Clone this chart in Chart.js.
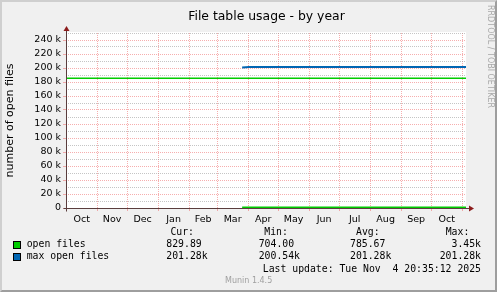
<!DOCTYPE html>
<html>
<head>
<meta charset="utf-8">
<title>File table usage - by year</title>
<script src="https://cdn.jsdelivr.net/npm/chart.js@4.4.1/dist/chart.umd.min.js"></script>
<style>
  html, body { margin: 0; padding: 0; background: #f0f0f0; }
  #wrap { position: relative; width: 497px; height: 292px; overflow: hidden; }
  #frame { position: absolute; left: 0; top: 0; width: 497px; height: 292px; box-sizing: border-box;
    border-style: solid; border-width: 2px; border-color: #cfcfcf #9e9e9e #9e9e9e #cfcfcf; background: #f0f0f0; }
  #chart { position: absolute; left: 0; top: 0; }
  .txt { position: absolute; white-space: pre; color: #000; }
  .mono { font-family: "DejaVu Sans Mono", monospace; font-size: 9.8px; line-height: 12px; }
  .box { position: absolute; width: 8px; height: 8px; box-sizing: border-box; border: 1px solid #000; }
  #title { left: 36px; width: 461px; top: 7.5px; text-align: center; font-family: "DejaVu Sans"; font-size: 12.4px; line-height: 15px; }
  #munin { left: 225px; top: 276.2px; font-family: "DejaVu Sans"; font-size: 8px; line-height: 10px; color: #a0a0a0; }
  #rrd { left: 485px; top: 5px; writing-mode: vertical-rl; font-family: "DejaVu Sans"; font-size: 8px; line-height: 10px; color: #a8a8a8; }
</style>
</head>
<body>
<div id="wrap">
  <div id="frame"></div>
  <canvas id="chart" width="497" height="292"></canvas>
  <div id="title" class="txt">File table usage - by year</div>
  <div id="rrd" class="txt">RRDTOOL / TOBI OETIKER</div>

  <div class="txt mono" style="right:303px;top:226.3px">Cur:</div>
  <div class="txt mono" style="left:264.3px;top:226.3px">Min:</div>
  <div class="txt mono" style="left:356px;top:226.3px">Avg:</div>
  <div class="txt mono" style="right:27.7px;top:226.3px">Max:</div>

  <div class="box" style="left:13px;top:240.5px;background:#00cc00"></div>
  <div class="txt mono" style="left:26.7px;top:237.9px">open files</div>
  <div class="txt mono" style="left:166.3px;top:237.9px">829.89</div>
  <div class="txt mono" style="left:258.7px;top:237.9px">704.00</div>
  <div class="txt mono" style="left:350px;top:237.9px">785.67</div>
  <div class="txt mono" style="right:16px;top:237.9px">3.45k</div>

  <div class="box" style="left:13px;top:253px;background:#0066b3"></div>
  <div class="txt mono" style="left:26.7px;top:250.3px">max open files</div>
  <div class="txt mono" style="left:166.3px;top:250.3px">201.28k</div>
  <div class="txt mono" style="left:258.7px;top:250.3px">200.54k</div>
  <div class="txt mono" style="left:350px;top:250.3px">201.28k</div>
  <div class="txt mono" style="right:16px;top:250.3px">201.28k</div>

  <div class="txt mono" style="right:16px;top:262.6px">Last update: Tue Nov  4 20:35:12 2025</div>
  <div id="munin" class="txt">Munin 1.4.5</div>
</div>

<script>
// x values are days since 1 Oct 2024
const xStart = -0.14;
const xEnd = 399.86;

const monthNames = ['Oct', 'Nov', 'Dec', 'Jan', 'Feb', 'Mar', 'Apr', 'May', 'Jun', 'Jul', 'Aug', 'Sep', 'Oct'];
const monthStarts = [0, 31, 61, 92, 123, 151, 182, 212, 243, 273, 304, 335, 365, 396];

const openFilesDays = [176, 183, 197, 212, 228, 243, 258, 273, 289, 304, 320, 335, 350, 365, 381, 396, 399.86];
const openFilesValues = [760, 742, 771, 704, 789, 812, 766, 795, 748, 803, 781, 759, 792, 815, 806, 820, 829.89];

const maxOpenDays = [176, 183, 212, 243, 273, 304, 335, 365, 399.86];
const maxOpenValues = [200540, 201280, 201280, 201280, 201280, 201280, 201280, 201280, 201280];

const limitValue = 185200;

const yMax = 250000;
const yStep = 10000;
const yLabelStep = 20000;

const green = '#00cc00';
const blue = '#0066b3';
const majorGrid = 'rgba(240,120,120,0.6)';
const minorGrid = 'rgba(150,150,150,0.55)';
const axisColor = '#5a3d3d';
const arrowColor = '#8c1c1c';

Chart.defaults.font.family = 'DejaVu Sans';
Chart.defaults.color = '#000';

function pairs(xs, ys) {
  return xs.map((x, i) => ({ x: x, y: ys[i] }));
}

const munin = {
  id: 'munin',
  beforeDraw(chart) {
    const { ctx, chartArea: a } = chart;
    ctx.save();
    ctx.fillStyle = '#ffffff';
    ctx.fillRect(a.left, a.top - 1, a.right - a.left, a.bottom - a.top + 1);
    ctx.restore();
  },
  afterDraw(chart) {
    const { ctx, chartArea: a } = chart;
    const x0 = Math.round(a.left) + 0.5;
    const y0 = Math.round(a.bottom) + 0.5;
    ctx.save();
    ctx.strokeStyle = axisColor;
    ctx.lineWidth = 1;
    ctx.beginPath();
    ctx.moveTo(x0, y0 + 3);
    ctx.lineTo(x0, a.top - 4);
    ctx.moveTo(x0 - 3, y0);
    ctx.lineTo(a.right + 3, y0);
    ctx.stroke();
    ctx.fillStyle = arrowColor;
    ctx.beginPath();
    ctx.moveTo(x0 - 3, a.top - 2);
    ctx.lineTo(x0 + 3, a.top - 2);
    ctx.lineTo(x0, a.top - 7);
    ctx.closePath();
    ctx.fill();
    ctx.beginPath();
    ctx.moveTo(a.right + 3, y0 - 3);
    ctx.lineTo(a.right + 3, y0 + 3);
    ctx.lineTo(a.right + 8, y0);
    ctx.closePath();
    ctx.fill();
    ctx.restore();
  }
};

new Chart(document.getElementById('chart'), {
  type: 'line',
  data: {
    datasets: [{
      label: 'open files',
      data: pairs(openFilesDays, openFilesValues),
      borderColor: green,
      backgroundColor: green,
      borderWidth: 2,
      pointRadius: 0
    }, {
      label: 'max open files',
      data: pairs(maxOpenDays, maxOpenValues),
      borderColor: blue,
      backgroundColor: blue,
      borderWidth: 2,
      pointRadius: 0
    }, {
      label: 'limit',
      data: [{ x: xStart, y: limitValue }, { x: xEnd, y: limitValue }],
      borderColor: green,
      borderWidth: 1.5,
      pointRadius: 0
    }]
  },
  options: {
    responsive: false,
    animation: false,
    events: [],
    layout: { padding: { left: 0, right: 31, top: 33, bottom: 0 } },
    plugins: {
      legend: { display: false },
      tooltip: { enabled: false },
      title: { display: false }
    },
    scales: {
      x: {
        type: 'linear',
        min: xStart,
        max: xEnd,
        afterBuildTicks(scale) {
          const ticks = monthStarts.map(v => ({ value: v }));
          monthNames.forEach((name, i) => {
            ticks.push({ value: (monthStarts[i] + monthStarts[i + 1]) / 2, name: name });
          });
          ticks.sort((p, q) => p.value - q.value);
          scale.ticks = ticks;
        },
        afterFit(scale) { scale.height = 84; },
        ticks: {
          autoSkip: false,
          maxRotation: 0,
          padding: 3,
          font: { size: 9.5 },
          callback(value, index, ticks) { return ticks[index].name || ''; }
        },
        grid: {
          color: ctx => (ctx.tick && ctx.tick.name) ? 'transparent' : majorGrid,
          tickColor: ctx => (ctx.tick && ctx.tick.name) ? 'transparent' : majorGrid,
          tickLength: 3,
          lineWidth: 1
        },
        border: { display: false, dash: [1, 1] }
      },
      y: {
        min: 0,
        max: yMax,
        afterFit(scale) { scale.width = 66; },
        ticks: {
          stepSize: yStep,
          autoSkip: false,
          padding: 2,
          font: { size: 9.5 },
          callback(value) {
            if (value % yLabelStep !== 0) return '';
            return value === 0 ? '0' : (value / 1000) + ' k';
          }
        },
        grid: {
          color: ctx => (ctx.tick && ctx.tick.value % yLabelStep === 0) ? majorGrid : minorGrid,
          tickColor: ctx => (ctx.tick && ctx.tick.value % yLabelStep === 0) ? majorGrid : 'transparent',
          tickLength: 3,
          lineWidth: 1
        },
        border: { display: false, dash: [1, 1] },
        title: {
          display: true,
          text: 'number of open files',
          font: { size: 11 },
          padding: { top: 4, bottom: 0 }
        }
      }
    }
  },
  plugins: [munin]
});
</script>
</body>
</html>
